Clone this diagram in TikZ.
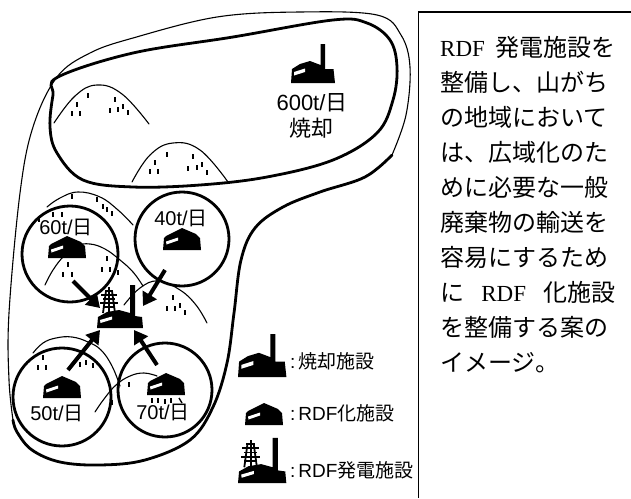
\documentclass[tikz,border=0pt]{standalone}
\usepackage{fontspec}
\newfontfamily\jp{Noto Sans CJK JP}
\newfontfamily\lat{Liberation Sans}
\newfontfamily\serif{Liberation Serif}
\usetikzlibrary{arrows.meta}
\begin{document}
\begin{tikzpicture}[x=1pt,y=-1pt,
  thinln/.style={line width=1.1pt, line cap=round},
  heavyln/.style={line width=2.8pt, line cap=round},
  tickmk/.style={line width=1.4pt},
  area/.style={draw, circle, line width=2.8pt, inner sep=0pt, minimum size=#1},
  flow/.style={line width=4pt, -{Triangle[length=13pt,width=16pt]}},
  lbl/.style={inner sep=0pt},
  % incineration plant: hall with a tall chimney
  incin/.pic={
    \begin{scope}[yscale=-1]
      \fill (0,0) -- (44,0) -- (42.5,14) -- (34,14) -- (34,39) -- (29.5,39) -- (29.5,18)
        -- (19,22) -- (9,19) -- (1,14) -- cycle;
      \fill[white] (3,11) -- (14,14.5) -- (14,11) -- (3,7.5) -- cycle;
    \end{scope}},
  % RDF plant: low shed
  rdfshed/.pic={
    \begin{scope}[yscale=-1]
      \fill (0,0) -- (38,0) -- (37,12) -- (33,16) -- (19,22) -- (3,14) -- (1,12) -- cycle;
      \fill[white] (3,8.5) -- (15,12.5) -- (15,9.5) -- (3.5,5.5) -- cycle;
    \end{scope}},
  % RDF power plant: hall, chimney and pylon
  genplant/.pic={
    \begin{scope}[yscale=-1]
      \fill (0,0) -- (46,0) -- (45,11) -- (38,12) -- (38,43) -- (33,43) -- (33,15)
        -- (22,18) -- (10,16) -- (1,11) -- cycle;
      \fill[white] (3,8) -- (15,11.5) -- (15,8.5) -- (3.5,5) -- cycle;
      \begin{scope}[shift={(12,15)}, line width=1.8pt]
        \draw (0,0) -- (0,26);
        \draw (-4,22) -- (4,22);
        \draw (-8,18) -- (8,18);
        \draw (-6,14) -- (6,14);
        \draw (-9,10) -- (9,10);
        \draw (-6,6) -- (6,6);
        \draw (-3,22) -- (-6,0);
        \draw (3,22) -- (6,0);
      \end{scope}
    \end{scope}}
]
\useasboundingbox (0,0) rectangle (631,498);

% ---------- hills ----------
\draw[thinln] plot[smooth, tension=0.7] coordinates {(54,123) (75,96) (97,85) (122,94) (149,124)};
\draw[thinln] plot[smooth, tension=0.7] coordinates {(132,182) (150,155) (173,143) (200,150) (228,182)};
\draw[thinln] plot[smooth, tension=0.7] coordinates {(47,207) (60,198) (78,192) (100,197) (118,210) (133,225)};
\draw[thinln] plot[smooth, tension=0.7] coordinates {(45,285) (53,270) (64,256) (77,246) (90,244) (105,249) (120,260) (133,272) (143,286)};
\draw[thinln] plot[smooth, tension=0.7] coordinates {(124,305) (140,288) (158,281) (180,290) (196,305) (207,323)};
\draw[thinln] plot[smooth, tension=0.7] coordinates {(33,353) (43,343) (56,338) (72,337) (88,342) (101,350) (112,366) (120,386)};
\draw[thinln] plot[smooth, tension=0.7] coordinates {(95,412) (104,399) (116,385) (130,376) (144,373) (157,376)};

\foreach \p in {(88,93),(77,102),(72,111),(80,111),(115,97),(110,108),(118,107),(123,104),(128,110),
                (167,152),(155,160),(150,169),(158,169),(193,154),(188,166),(197,165),(202,162),(207,170),
                (72,194),(53,212),(62,212),(97,197),(103,204),(107,207),(112,211),(39,217),
                (68,262),(63,272),(72,272),(107,256),(102,267),(110,267),(118,270),
                (173,295),(167,306),(175,306),(180,303),(185,310),
                (43,355),(38,365),(46,365),(80,362),(86,360),(93,363),(112,400),(129,382),
                (152,398),(158,398),(165,399),(171,398)}
  \draw[tickmk] \p -- ++(0,5);
\draw[tickmk] (179,398) -- (182,403);

% ---------- district boundaries ----------
\draw[thinln] plot[smooth, tension=0.6] coordinates {(13,420) (9,380) (9,313) (20,193) (33,127) (57,77) (90,53) (133,38) (217,17)
  (300,12) (377,15) (401,35) (410,67) (406,115) (392,155)};
\draw[heavyln] plot[smooth, tension=0.6] coordinates {(392,155) (365,177) (320,192) (283,207) (255,228) (241,260) (234,313)
  (227,363) (213,407) (190,440) (145,460) (100,465) (60,462) (32,450) (17,432) (13,420)};
\draw[heavyln] plot[smooth cycle, tension=0.6] coordinates {(58,77) (133,53) (233,37) (333,20) (367,23) (390,40) (397,67)
  (393,100) (377,133) (333,160) (267,177) (200,185) (133,187) (83,180) (57,153) (50,127) (53,95)};

% ---------- collection areas ----------
\node[area=96pt] (c60) at (70,254) {};
\node[area=94pt] (c40) at (182,239) {};
\node[area=98pt] (c50) at (62,397) {};
\node[area=94pt] (c70) at (165,390) {};

% ---------- facilities ----------
\pic at (291,83) {incin};
\pic at (48,258) {rdfshed};
\pic at (163,250) {rdfshed};
\pic at (43,398) {rdfshed};
\pic at (147,395) {rdfshed};
\pic at (97,328) {genplant};

% ---------- labels ----------
\node[lbl] (l600) at (312,103) {\fontsize{22}{26}\selectfont{\lat 600t/}{\jp 日}};
\node[lbl] (lburn) at (311,128) {\fontsize{22}{26}\selectfont\jp 焼却};
\node[lbl] (l60) at (66,227) {\fontsize{20}{24}\selectfont{\lat 60t/}{\jp 日}};
\node[lbl] (l40) at (181,218) {\fontsize{20}{24}\selectfont{\lat 40t/}{\jp 日}};
\node[lbl] (l50) at (57,413) {\fontsize{20}{24}\selectfont{\lat 50t/}{\jp 日}};
\node[lbl] (l70) at (163,412) {\fontsize{20}{24}\selectfont{\lat 70t/}{\jp 日}};

% ---------- transport to the power plant ----------
\coordinate (s60) at (73,281);  \coordinate (t60) at (100,308);
\coordinate (s40) at (165,270); \coordinate (t40) at (143,306);
\coordinate (s50) at (68,370);  \coordinate (t50) at (100,330);
\coordinate (s70) at (157,365); \coordinate (t70) at (134,330);
\draw[flow] (s60) -- (t60);
\draw[flow] (s40) -- (t40);
\draw[flow] (s50) -- (t50);
\draw[flow] (s70) -- (t70);

% ---------- legend ----------
\pic[scale=1.1] at (238,377) {incin};
\pic at (245,425) {rdfshed};
\pic[scale=1.05] at (238,483) {genplant};
\node[lbl, anchor=west] (k1) at (290,361) {\fontsize{19}{23}\selectfont{\lat :}\hspace{3pt}{\jp 焼却施設}};
\node[lbl, anchor=west] (k2) at (290,413) {\fontsize{19}{23}\selectfont{\lat :}\hspace{3pt}{\lat RDF}{\jp 化施設}};
\node[lbl, anchor=west] (k3) at (290,470) {\fontsize{19}{23}\selectfont{\lat :}\hspace{3pt}{\lat RDF}{\jp 発電施設}};

% ---------- explanation panel ----------
\draw[line width=1.3pt] (418.5,498) -- (418.5,12) -- (631,12);
\begin{scope}[every node/.style={lbl, anchor=base west}]
  \newcommand\panelfont{\fontsize{24}{28}\selectfont\jp}
  \newcommand\panelrdf{{\fontsize{23}{26}\selectfont\serif RDF}}
  \node (p1)  at (440,56)  {\panelfont\hbox to 175pt{\panelrdf\hfill 発電施設を}};
  \node (p2)  at (440,91)  {\panelfont 整備し、山がち};
  \node (p3)  at (440,126) {\panelfont の地域において};
  \node (p4)  at (440,161) {\panelfont は、広域化のた};
  \node (p5)  at (440,196) {\panelfont めに必要な一般};
  \node (p6)  at (440,231) {\panelfont 廃棄物の輸送を};
  \node (p7)  at (440,266) {\panelfont 容易にするため};
  \node (p8)  at (440,301) {\panelfont\hbox to 175pt{に\hfill\panelrdf\hfill 化施設}};
  \node (p9)  at (440,336) {\panelfont を整備する案の};
  \node (p10) at (440,371) {\panelfont イメージ。};
\end{scope}
\end{tikzpicture}
\end{document}
